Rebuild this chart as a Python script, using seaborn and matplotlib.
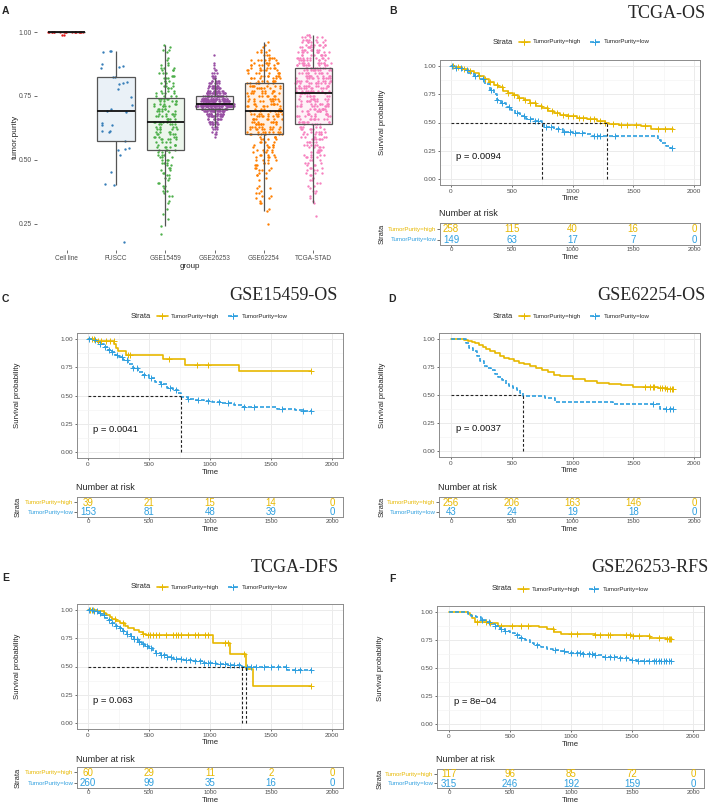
import warnings
warnings.filterwarnings("ignore")
import numpy as np
import pandas as pd
import matplotlib
matplotlib.use("Agg")
import matplotlib.pyplot as plt
from matplotlib.lines import Line2D
from matplotlib.colors import to_rgba
import seaborn as sns

# ---------------- Panel A data ----------------
groups = ["Cell line", "FUSCC", "GSE15459", "GSE26253", "GSE62254", "TCGA-STAD"]
group_colors = ["#E41A1C", "#377EB8", "#4DAF4A", "#984EA3", "#FF7F00", "#F781BF"]

cellline_vals = [1.00, 0.99]
cellline_counts = [20, 2]

fuscc_purity = [0.927, 0.925, 0.923, 0.874, 0.867, 0.865, 0.858, 0.825, 0.823, 0.803,
                0.802, 0.796, 0.776, 0.747, 0.715, 0.700, 0.690, 0.689, 0.646, 0.637,
                0.636, 0.613, 0.612, 0.608, 0.573, 0.546, 0.543, 0.539, 0.520, 0.451,
                0.405, 0.402, 0.181]

gse15459_vals = [0.21, 0.24, 0.27, 0.29, 0.31, 0.33, 0.34,
                 0.36, 0.37, 0.38, 0.39, 0.40, 0.41, 0.42, 0.43, 0.44, 0.45, 0.46, 0.47, 0.48,
                 0.49, 0.50, 0.51, 0.52, 0.53,
                 0.54, 0.55, 0.56, 0.57, 0.58, 0.59, 0.60, 0.61, 0.62, 0.63, 0.64,
                 0.65, 0.66, 0.67, 0.68, 0.69, 0.70, 0.71, 0.72, 0.73, 0.74,
                 0.75, 0.76,
                 0.77, 0.78, 0.79, 0.80, 0.81, 0.82, 0.83, 0.84, 0.85, 0.86,
                 0.87, 0.88, 0.89, 0.90,
                 0.92, 0.93, 0.94, 0.95]
gse15459_counts = [1, 1, 1, 1, 1, 1, 1,
                   2, 1, 2, 1, 2, 2, 1, 2, 2, 2, 2, 2, 2,
                   3, 3, 3, 3, 3,
                   4, 4, 4, 4, 5, 5, 5, 4, 5, 4, 5,
                   5, 5, 5, 5, 5, 5, 5, 5, 5, 5,
                   4, 4,
                   3, 3, 3, 3, 3, 3, 3, 3, 3, 3,
                   2, 1, 1, 1,
                   1, 2, 1, 1]

gse26253_vals = [0.59, 0.60, 0.61, 0.62, 0.63, 0.64, 0.65, 0.66, 0.67, 0.68,
                 0.69, 0.70, 0.71, 0.72, 0.73, 0.74, 0.75, 0.76, 0.77, 0.78,
                 0.79, 0.80, 0.81, 0.82, 0.83, 0.84, 0.85, 0.86, 0.87, 0.88, 0.91]
gse26253_counts = [1, 2, 2, 3, 4, 6, 8, 10, 13, 17,
                   22, 30, 58, 55, 36, 32, 26, 20, 14, 11,
                   9, 7, 5, 4, 3, 3, 2, 1, 1, 1, 1]

gse62254_vals = [0.25, 0.30, 0.31, 0.33, 0.34, 0.35, 0.36, 0.37, 0.38, 0.39, 0.40, 0.42,
                 0.43, 0.44, 0.45, 0.46, 0.47, 0.48, 0.49,
                 0.50, 0.51, 0.52, 0.53, 0.54, 0.55, 0.56, 0.57, 0.58, 0.59,
                 0.60, 0.61, 0.62, 0.63, 0.64, 0.65, 0.66, 0.67, 0.68, 0.69,
                 0.70, 0.71, 0.72, 0.73, 0.74, 0.75, 0.76, 0.77, 0.78, 0.79,
                 0.80, 0.81, 0.82, 0.83, 0.84, 0.85, 0.86, 0.87, 0.88, 0.89,
                 0.90, 0.91, 0.92, 0.93, 0.94, 0.95, 0.96]
gse62254_counts = [1, 1, 1, 2, 1, 2, 2, 2, 1, 2, 1, 1,
                   1, 2, 2, 3, 3, 3, 3,
                   4, 4, 4, 4, 4, 4, 4, 4, 4, 4,
                   8, 8, 8, 8, 8, 8, 8, 8, 8, 8,
                   7, 7, 7, 7, 7, 7, 7, 7, 7, 7,
                   7, 7, 7, 7, 7, 7, 6, 6, 6, 6,
                   4, 3, 3, 2, 1, 1, 1]

tcga_vals = [0.28, 0.33, 0.34, 0.35, 0.36, 0.37, 0.38, 0.39, 0.40, 0.41, 0.42, 0.43, 0.44,
             0.45, 0.46, 0.47, 0.48, 0.49, 0.50, 0.51, 0.52, 0.53, 0.54, 0.55, 0.56, 0.57,
             0.58, 0.59, 0.60, 0.61, 0.62, 0.63, 0.64,
             0.65, 0.66, 0.67, 0.68, 0.69, 0.70, 0.71, 0.72, 0.73, 0.74, 0.75, 0.76,
             0.77, 0.78, 0.79, 0.80, 0.81, 0.82, 0.83, 0.84, 0.85, 0.86,
             0.87, 0.88, 0.89, 0.90, 0.91, 0.92, 0.93, 0.94, 0.95, 0.96, 0.97, 0.98, 0.99]
tcga_counts = [1, 1, 1, 1, 1, 1, 2, 1, 2, 2, 2, 2, 2,
               3, 3, 3, 3, 3, 3, 4, 4, 4, 4, 5, 5, 5,
               6, 6, 6, 6, 6, 6, 5,
               9, 9, 9, 9, 9, 9, 9, 9, 8, 8, 8, 8,
               10, 10, 11, 11, 11, 11, 10, 10, 10, 10,
               11, 11, 10, 10, 9, 9, 8, 8, 7, 6, 6, 5, 3]

# ---------------- Survival data ----------------
GOLD, BLUE = "#E7B800", "#2E9FDF"
risk_times = [0, 500, 1000, 1500, 2000]

# B: TCGA-OS
tcga_os_high_time = [0, 30, 90, 140, 190, 230, 270, 310, 350, 390, 430, 470, 510, 550, 600, 650,
                     700, 750, 800, 850, 900, 960, 1040, 1120, 1200, 1270, 1300, 1380, 1470,
                     1560, 1650, 1825]
tcga_os_high_surv = [1.0, 0.99, 0.97, 0.955, 0.935, 0.91, 0.88, 0.86, 0.83, 0.81, 0.78, 0.76,
                     0.74, 0.72, 0.695, 0.67, 0.645, 0.625, 0.605, 0.585, 0.565, 0.555, 0.54,
                     0.53, 0.515, 0.50, 0.49, 0.48, 0.475, 0.465, 0.44, 0.44]
tcga_os_high_cens = [20, 60, 110, 160, 230, 280, 320, 380, 420, 470, 520, 560, 610, 650, 690, 740,
                     790, 830, 870, 920, 960, 1000, 1050, 1090, 1140, 1180, 1230, 1270, 1330,
                     1400, 1450, 1520, 1600, 1700, 1760, 1820]
tcga_os_low_time = [0, 40, 90, 140, 190, 240, 280, 320, 350, 380, 410, 450, 490, 530, 570, 620,
                    680, 752, 765, 850, 920, 1000, 1100, 1150, 1700, 1730, 1770, 1800, 1825]
tcga_os_low_surv = [1.0, 0.98, 0.96, 0.94, 0.91, 0.88, 0.84, 0.79, 0.75, 0.70, 0.67, 0.64, 0.61,
                    0.585, 0.56, 0.53, 0.51, 0.50, 0.46, 0.44, 0.42, 0.41, 0.395, 0.385, 0.35,
                    0.32, 0.29, 0.28, 0.28]
tcga_os_low_cens = [10, 40, 80, 130, 200, 260, 330, 380, 420, 480, 540, 600, 650, 690, 720, 780,
                    820, 880, 930, 980, 1020, 1080, 1180, 1200, 1230, 1350, 1820]
tcga_os_risk_high = [258, 115, 40, 16, 0]
tcga_os_risk_low = [149, 63, 17, 7, 0]

# C: GSE15459-OS
g15459_high_time = [0, 60, 215, 232, 245, 315, 615, 795, 1235, 1825]
g15459_high_surv = [1.0, 0.98, 0.955, 0.92, 0.89, 0.86, 0.82, 0.77, 0.72, 0.72]
g15459_high_cens = [30, 50, 80, 110, 150, 180, 210, 330, 345, 660, 895, 980, 1825]
g15459_low_time = [0, 40, 70, 100, 130, 160, 190, 220, 250, 290, 330, 370, 410, 450, 500, 550,
                   600, 650, 700, 740, 760, 820, 880, 950, 1020, 1100, 1200, 1270, 1400, 1550,
                   1700, 1760, 1825]
g15459_low_surv = [1.0, 0.99, 0.97, 0.95, 0.93, 0.90, 0.88, 0.86, 0.84, 0.81, 0.78, 0.74, 0.71,
                   0.68, 0.65, 0.62, 0.60, 0.57, 0.55, 0.52, 0.49, 0.47, 0.46, 0.45, 0.44, 0.43,
                   0.415, 0.40, 0.395, 0.385, 0.375, 0.365, 0.365]
g15459_low_cens = [10, 60, 100, 140, 170, 200, 240, 280, 320, 370, 400, 460, 520, 600, 670, 720,
                   820, 900, 980, 1070, 1150, 1280, 1360, 1590, 1760, 1825]
g15459_risk_high = [39, 21, 15, 14, 0]
g15459_risk_low = [153, 81, 48, 39, 0]

# D: GSE62254-OS
g62254_high_time = [0, 80, 110, 140, 170, 200, 230, 260, 290, 320, 360, 400, 440, 480, 520, 560,
                    600, 650, 700, 750, 800, 850, 900, 1000, 1100, 1200, 1300, 1400, 1500, 1600,
                    1700, 1780, 1825]
g62254_high_surv = [1.0, 0.995, 0.99, 0.98, 0.97, 0.96, 0.945, 0.93, 0.91, 0.89, 0.87, 0.85, 0.83,
                    0.815, 0.80, 0.785, 0.775, 0.76, 0.74, 0.72, 0.70, 0.68, 0.665, 0.64, 0.625,
                    0.61, 0.595, 0.585, 0.575, 0.57, 0.565, 0.555, 0.555]
g62254_high_cens = [1600, 1640, 1660, 1670, 1720, 1740, 1760, 1780, 1800, 1815, 1825]
g62254_low_time = [0, 125, 150, 180, 210, 240, 270, 300, 330, 360, 390, 420, 450, 480, 510, 540,
                   570, 595, 770, 860, 1330, 1720, 1825]
g62254_low_surv = [1.0, 0.96, 0.92, 0.89, 0.85, 0.80, 0.76, 0.74, 0.72, 0.69, 0.66, 0.63, 0.60,
                   0.58, 0.56, 0.54, 0.52, 0.49, 0.47, 0.44, 0.42, 0.38, 0.38]
g62254_low_cens = [1660, 1770, 1800, 1825]
g62254_risk_high = [256, 206, 163, 146, 0]
g62254_risk_low = [43, 24, 19, 18, 0]

# E: TCGA-DFS
tcga_dfs_high_time = [0, 70, 130, 150, 180, 200, 230, 260, 300, 330, 380, 420, 450, 475, 1027,
                      1164, 1295, 1355, 1825]
tcga_dfs_high_surv = [1.0, 0.985, 0.97, 0.955, 0.94, 0.92, 0.90, 0.88, 0.86, 0.84, 0.82, 0.80,
                      0.79, 0.78, 0.71, 0.61, 0.48, 0.325, 0.325]
tcga_dfs_high_cens = [20, 40, 130, 220, 290, 450, 490, 510, 530, 560, 580, 640, 700, 720, 740, 760,
                      820, 880, 900, 960, 980, 1120, 1150, 1280, 1825]
tcga_dfs_low_time = [0, 50, 80, 110, 140, 170, 200, 230, 260, 290, 320, 350, 380, 410, 440, 470,
                     500, 530, 560, 600, 650, 700, 780, 860, 950, 1050, 1150, 1265, 1630, 1825]
tcga_dfs_low_surv = [1.0, 0.99, 0.97, 0.95, 0.93, 0.91, 0.885, 0.86, 0.84, 0.81, 0.79, 0.765,
                     0.74, 0.72, 0.70, 0.68, 0.66, 0.64, 0.62, 0.60, 0.585, 0.57, 0.555, 0.545,
                     0.535, 0.525, 0.515, 0.50, 0.47, 0.47]
tcga_dfs_low_cens = [10, 30, 50, 70, 100, 130, 170, 200, 230, 260, 290, 320, 350, 380, 400, 420,
                     450, 480, 520, 560, 600, 620, 650, 680, 720, 760, 800, 840, 880, 920, 950,
                     980, 1000, 1040, 1080, 1120, 1160, 1200, 1240, 1300, 1340, 1380, 1440, 1500,
                     1560, 1620, 1700, 1740, 1825]
tcga_dfs_risk_high = [60, 29, 11, 2, 0]
tcga_dfs_risk_low = [260, 99, 35, 16, 0]

# F: GSE26253-RFS
g26253_high_time = [0, 155, 170, 190, 210, 320, 400, 740, 800, 860, 915, 1200, 1500, 1650, 1780, 1825]
g26253_high_surv = [1.0, 0.99, 0.97, 0.94, 0.91, 0.895, 0.87, 0.86, 0.85, 0.82, 0.80, 0.79, 0.78,
                    0.77, 0.755, 0.755]
g26253_high_cens = [230, 300, 340, 430, 520, 590, 650, 850, 1000, 1050, 1200, 1240, 1300, 1320,
                    1450, 1480, 1510, 1560, 1640, 1720, 1790, 1800, 1810, 1820]
g26253_low_time = [0, 155, 180, 220, 260, 300, 340, 380, 420, 460, 500, 540, 580, 620, 660, 700,
                   750, 800, 850, 900, 950, 1000, 1100, 1200, 1260, 1330, 1400, 1480, 1540, 1825]
g26253_low_surv = [1.0, 0.98, 0.965, 0.95, 0.93, 0.91, 0.89, 0.87, 0.85, 0.83, 0.81, 0.79, 0.765,
                   0.745, 0.725, 0.705, 0.685, 0.67, 0.66, 0.65, 0.64, 0.635, 0.625, 0.615, 0.60,
                   0.595, 0.59, 0.575, 0.565, 0.565]
g26253_low_cens = [270, 330, 380, 430, 460, 560, 590, 720, 870, 940, 1000, 1050, 1070, 1100, 1150,
                   1170, 1200, 1280, 1320, 1350, 1400, 1450, 1500, 1550, 1600, 1640, 1680, 1700,
                   1720, 1740, 1760, 1780, 1800, 1820]
g26253_risk_high = [117, 96, 85, 72, 0]
g26253_risk_low = [315, 246, 192, 159, 0]

# ---------------- Figure ----------------
sns.set_theme(style="white")
plt.rcParams['font.family'] = ['Liberation Sans', 'DejaVu Sans']
plt.rcParams['axes.unicode_minus'] = True

W, H = 709, 807
fig = plt.figure(figsize=(W / 100, H / 100), dpi=100)


def pxbox(l, t, r, b):
    return [l / W, 1 - b / H, (r - l) / W, (b - t) / H]


def ftext(x, y, s, **kw):
    kw.setdefault("ha", "center")
    kw.setdefault("va", "center")
    fig.text(x / W, 1 - y / H, s, **kw)


def fline(x1, x2, y, **kw):
    fig.add_artist(Line2D([x1 / W, x2 / W], [1 - y / H, 1 - y / H],
                          transform=fig.transFigure, **kw))


TICKC = "#4D4D4D"

# ---------------- Panel A ----------------
binned = {
    "Cell line": (cellline_vals, cellline_counts),
    "GSE15459": (gse15459_vals, gse15459_counts),
    "GSE26253": (gse26253_vals, gse26253_counts),
    "GSE62254": (gse62254_vals, gse62254_counts),
    "TCGA-STAD": (tcga_vals, tcga_counts),
}
purity = {"FUSCC": np.array(fuscc_purity)}
for g, (v, c) in binned.items():
    purity[g] = np.repeat(v, c)
dfA = pd.concat([pd.DataFrame({"group": g, "tumor.purity": purity[g]}) for g in groups],
                ignore_index=True)

# maximum half-width of each point cloud (in category units)
cloud_halfwidth = {"Cell line": 0.38, "FUSCC": 0.33, "GSE15459": 0.25,
                   "GSE26253": 0.40, "GSE62254": 0.38, "TCGA-STAD": 0.38}

np.random.seed(11)
axA = fig.add_axes(pxbox(37, 20, 343, 250))
for g, col in zip(groups, group_colors):
    if g == "FUSCC":
        sns.stripplot(x=[g] * len(fuscc_purity), y=fuscc_purity, order=groups, color=col,
                      jitter=cloud_halfwidth[g], size=1.7, linewidth=0, ax=axA)
        continue
    vals, cnts = np.asarray(binned[g][0]), np.asarray(binned[g][1])
    maxc = cnts.max()
    for k in np.unique(cnts):
        sel = np.repeat(vals[cnts == k], k)
        sns.stripplot(x=[g] * len(sel), y=sel, order=groups, color=col,
                      jitter=cloud_halfwidth[g] * (k / maxc) ** 0.6, size=1.7,
                      linewidth=0, ax=axA)
for coll in axA.collections:
    coll.set_zorder(2)
sns.boxplot(data=dfA, x="group", y="tumor.purity", order=groups, width=0.76,
            showfliers=False, showcaps=False, color="white", linecolor="#555555",
            linewidth=0.9, medianprops={"color": "#111111", "linewidth": 1.3}, ax=axA)
for p, c in zip(axA.patches, group_colors):
    p.set_facecolor(to_rgba(c, 0.1))
    p.set_edgecolor("#555555")
    p.set_zorder(3)
for ln in axA.lines:
    ln.set_zorder(4)
axA.set_xlim(-0.6, 5.6)
axA.set_ylim(0.148, 1.047)
axA.set_yticks([0.25, 0.50, 0.75, 1.00])
axA.set_yticklabels(["0.25", "0.50", "0.75", "1.00"])
axA.set_xlabel("")
axA.set_ylabel("")
for s in axA.spines.values():
    s.set_visible(False)
axA.tick_params(axis="both", bottom=True, left=True, length=2.2, width=0.5, color="#333333",
                labelcolor=TICKC, pad=1.5)
axA.tick_params(axis="y", labelsize=4.9)
axA.tick_params(axis="x", labelsize=4.7)
ftext(190, 267, "group", fontsize=5.8)
ftext(15, 137, "tumor.purity", fontsize=6, rotation=90)
ftext(2, 11.5, "A", fontsize=7.5, fontweight="bold", ha="left")


# ---------------- KM panels ----------------
def step_at(times, surv, t):
    idx = np.searchsorted(np.asarray(times), np.asarray(t), side="right") - 1
    return np.asarray(surv)[idx]


def km_panel(P):
    l, t, r, b = P["main"]
    x0, x2 = P["x0"], P["x2000"]
    sc = (x2 - x0) / 2000.0
    xlim = ((l - x0) / sc, (r - x0) / sc)

    ax = fig.add_axes(pxbox(l, t, r, b))
    ax.set_xlim(*xlim)
    ax.set_ylim(-0.05, 1.05)
    ax.set_xticks(risk_times)
    ax.set_xticklabels([str(v) for v in risk_times])
    ax.set_yticks([0, 0.25, 0.5, 0.75, 1.0])
    ax.set_yticklabels(["0.00", "0.25", "0.50", "0.75", "1.00"])
    ax.set_xticks([250, 750, 1250, 1750], minor=True)
    ax.set_yticks([0.125, 0.375, 0.625, 0.875], minor=True)
    ax.grid(True, which="major", color="#EBEBEB", linewidth=0.7)
    ax.grid(True, which="minor", color="#F3F3F3", linewidth=0.45)
    ax.set_axisbelow(True)
    for s in ax.spines.values():
        s.set_color("#8C8C8C")
        s.set_linewidth(0.7)
    ax.tick_params(which="major", bottom=True, left=True, length=1.6, width=0.5, color="#333333",
                   labelsize=4.6, labelcolor=TICKC, pad=1.0)
    ax.tick_params(which="minor", length=0)

    hi = pd.DataFrame({"time": P["hi_t"], "surv": P["hi_s"]})
    lo = pd.DataFrame({"time": P["lo_t"], "surv": P["lo_s"]})
    sns.lineplot(data=hi, x="time", y="surv", drawstyle="steps-post", color=GOLD,
                 linewidth=1.2, estimator=None, sort=False, ax=ax)
    sns.lineplot(data=lo, x="time", y="surv", drawstyle="steps-post", color=BLUE,
                 linewidth=1.2, linestyle=(0, (2.4, 1.2)), estimator=None, sort=False, ax=ax)
    sns.scatterplot(x=P["hi_c"], y=step_at(P["hi_t"], P["hi_s"], P["hi_c"]), marker="+",
                    color=GOLD, s=14, linewidth=0.7, ax=ax, legend=False, zorder=3)
    sns.scatterplot(x=P["lo_c"], y=step_at(P["lo_t"], P["lo_s"], P["lo_c"]), marker="+",
                    color=BLUE, s=14, linewidth=0.7, ax=ax, legend=False, zorder=3)
    if P["medians"]:
        ax.plot([0, max(P["medians"])], [0.5, 0.5], color="#222222", linewidth=0.8,
                linestyle=(0, (2.5, 1.8)), zorder=4)
        for m in P["medians"]:
            ax.plot([m, m], [0, 0.5], color="#222222", linewidth=0.8,
                    linestyle=(0, (2.5, 1.8)), zorder=4)
    ax.text(40, 0.2, P["pval"], fontsize=6.8, ha="left", va="center", color="#111111")
    ax.set_xlabel("")
    ax.set_ylabel("")

    # axis titles
    ftext((l + r) / 2, b + 14, "Time", fontsize=5.6)
    ftext(P["ylab_x"], (t + b) / 2, "Survival probability", fontsize=5.6, rotation=90)

    # title and panel letter
    ftext(P["title_xy"][0], P["title_xy"][1], P["title"], fontsize=13, ha="right",
          family=["Liberation Serif", "DejaVu Serif"])
    ftext(P["letter_xy"][0], P["letter_xy"][1], P["letter"], fontsize=7.5,
          fontweight="bold", ha="left")

    # legend
    lx, ly = P["legend_xy"]
    ftext(lx, ly, "Strata", fontsize=5.4, ha="left")
    fline(lx + 25.5, lx + 36.5, ly, color=GOLD, linewidth=1.2)
    fline(lx + 31, lx + 31, ly, color=GOLD, marker="+", markersize=4, markeredgewidth=0.7,
          linestyle="none")
    ftext(lx + 39.5, ly, "TumorPurity=high", fontsize=4.4, ha="left")
    fline(lx + 97, lx + 107.5, ly, color=BLUE, linewidth=1.2, linestyle=(0, (2.4, 1.2)))
    fline(lx + 102, lx + 102, ly, color=BLUE, marker="+", markersize=4, markeredgewidth=0.7,
          linestyle="none")
    ftext(lx + 110.5, ly, "TumorPurity=low", fontsize=4.4, ha="left")

    # risk table
    tl, tt, tr, tbm = P["table"]
    tb = fig.add_axes(pxbox(tl, tt, tr, tbm))
    tb.set_xlim(*xlim)
    tb.set_ylim(0.5, 2.5)
    for xv, n in zip(risk_times, P["risk_hi"]):
        tb.text(xv, 1.93, str(n), color=GOLD, fontsize=7, ha="center", va="center")
    for xv, n in zip(risk_times, P["risk_lo"]):
        tb.text(xv, 0.97, str(n), color=BLUE, fontsize=7, ha="center", va="center")
    tb.set_xticks(risk_times)
    tb.set_xticklabels([str(v) for v in risk_times])
    tb.set_yticks([1, 2])
    tb.set_yticklabels(["TumorPurity=low", "TumorPurity=high"])
    for lab, c in zip(tb.get_yticklabels(), [BLUE, GOLD]):
        lab.set_color(c)
    tb.tick_params(axis="x", bottom=True, length=1.3, width=0.5, color="#333333",
                   labelsize=4.4, labelcolor=TICKC, pad=0.4)
    tb.tick_params(axis="y", left=True, length=2, width=0.5, color="#333333",
                   labelsize=4.4, pad=0.5)
    for s in tb.spines.values():
        s.set_color("#8C8C8C")
        s.set_linewidth(0.7)
    ftext(tl - 1, P["nar_y"], "Number at risk", fontsize=6.5, ha="left")
    ftext((tl + tr) / 2, tbm + 12.5, "Time", fontsize=5.6)
    ftext(P["ylab_x"], (tt + tbm) / 2, "Strata", fontsize=5.4, rotation=90)


panels = [
    dict(main=(440, 60, 700, 185), table=(440, 223, 700, 245), x0=451, x2000=694,
         title="TCGA-OS", title_xy=(706, 14), letter="B", letter_xy=(389, 11.5),
         legend_xy=(493, 42), ylab_x=382, nar_y=213, pval="p = 0.0094",
         hi_t=tcga_os_high_time, hi_s=tcga_os_high_surv, hi_c=tcga_os_high_cens,
         lo_t=tcga_os_low_time, lo_s=tcga_os_low_surv, lo_c=tcga_os_low_cens,
         medians=[752, 1280], risk_hi=tcga_os_risk_high, risk_lo=tcga_os_risk_low),
    dict(main=(77, 333, 343, 458), table=(77, 497, 343, 517), x0=88, x2000=332,
         title="GSE15459-OS", title_xy=(338, 295), letter="C", letter_xy=(2, 299),
         legend_xy=(131, 316), ylab_x=18, nar_y=487, pval="p = 0.0041",
         hi_t=g15459_high_time, hi_s=g15459_high_surv, hi_c=g15459_high_cens,
         lo_t=g15459_low_time, lo_s=g15459_low_surv, lo_c=g15459_low_cens,
         medians=[760], risk_hi=g15459_risk_high, risk_lo=g15459_risk_low),
    dict(main=(439, 333, 700, 457), table=(439, 497, 700, 517), x0=451, x2000=694,
         title="GSE62254-OS", title_xy=(706, 295), letter="D", letter_xy=(388, 299.5),
         legend_xy=(493, 316), ylab_x=382, nar_y=487, pval="p = 0.0037",
         hi_t=g62254_high_time, hi_s=g62254_high_surv, hi_c=g62254_high_cens,
         lo_t=g62254_low_time, lo_s=g62254_low_surv, lo_c=g62254_low_cens,
         medians=[595], risk_hi=g62254_risk_high, risk_lo=g62254_risk_low),
    dict(main=(77, 604, 343, 729), table=(77, 767, 343, 788), x0=88, x2000=332,
         title="TCGA-DFS", title_xy=(339, 567), letter="E", letter_xy=(2, 578),
         legend_xy=(131, 587), ylab_x=18, nar_y=759, pval="p = 0.063",
         hi_t=tcga_dfs_high_time, hi_s=tcga_dfs_high_surv, hi_c=tcga_dfs_high_cens,
         lo_t=tcga_dfs_low_time, lo_s=tcga_dfs_low_surv, lo_c=tcga_dfs_low_cens,
         medians=[1265, 1295], risk_hi=tcga_dfs_risk_high, risk_lo=tcga_dfs_risk_low),
    dict(main=(437, 606, 704, 730), table=(437, 769, 704, 788), x0=449, x2000=693,
         title="GSE26253-RFS", title_xy=(708, 568), letter="F", letter_xy=(389, 579),
         legend_xy=(492, 589), ylab_x=380, nar_y=760, pval="p = 8e\u221204",
         hi_t=g26253_high_time, hi_s=g26253_high_surv, hi_c=g26253_high_cens,
         lo_t=g26253_low_time, lo_s=g26253_low_surv, lo_c=g26253_low_cens,
         medians=[], risk_hi=g26253_risk_high, risk_lo=g26253_risk_low),
]

for P in panels:
    km_panel(P)

fig.savefig("out.png", dpi=100, facecolor="white")
